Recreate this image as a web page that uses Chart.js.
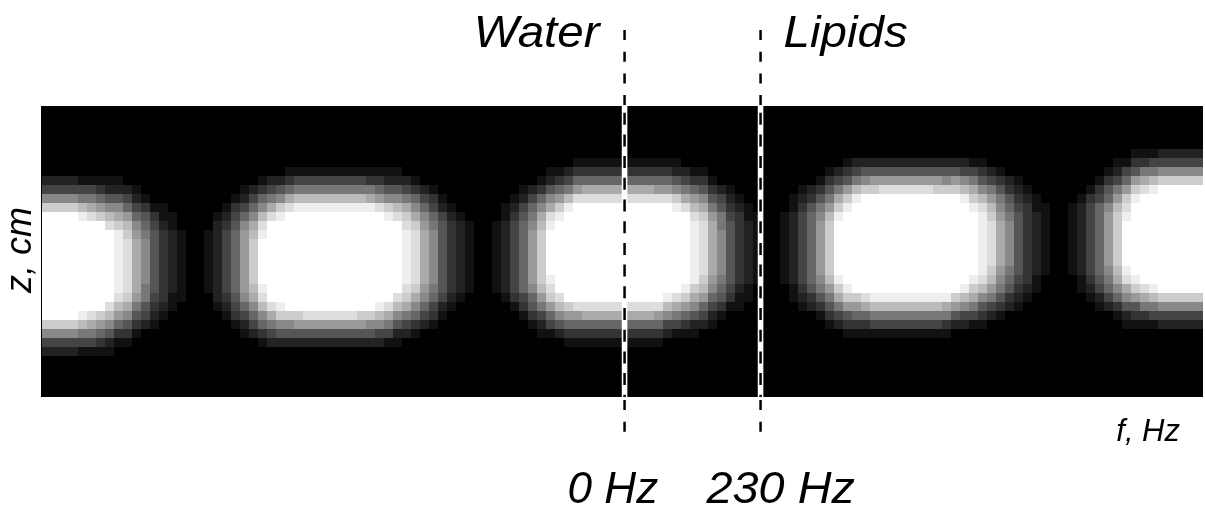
<!DOCTYPE html>
<html>
<head>
<meta charset="utf-8">
<script src="https://cdn.jsdelivr.net/npm/chart.js@4.4.1/dist/chart.umd.min.js"></script>
<style>
  html, body { margin: 0; padding: 0; background: #fff; }
  #wrap { width: 1205px; height: 509px; }
</style>
</head>
<body>
<div id="wrap"><canvas id="map" width="1205" height="509"></canvas></div>
<script>
// one string per f bin (left to right), one hex digit per z row (top first): 0 = black, f = white
const fBins = [
  '00000000 248c ffffffffffff c842 00000',
  '00000000 248c ffffffffffff c842 00000',
  '00000000 248c ffffffffffff c842 00000',
  '00000000 248c ffffffffffff c842 00000',
  '00000000 147be ffffffffff eb741 00000',
  '00000000 147ad ffffffffff da741 00000',
  '00000000 1369c ffffffffff c9631 00000',
  '00000000 1258bd ffffffff db8521 00000',
  '00000000 1258ac eeeeeee db9631 000000',
  '000000000 2469bc dddddd ca8531 000000',
  '000000000 124689 aaaaaa 97531 0000000',
  '0000000000 13567 88888 77542 00000000',
  '00000000000 134 5555555 4321 00000000',
  '00000000000 112 33333333 21 000000000',
  '000000000000 11 2222222 11 0000000000',
  '00000000000000 11111111 00000000000',
  '00000000000 00000000000 00000000000',
  '00000000000 00000000000 00000000000',
  '00000000000000 1111111 000000000000',
  '000000000000 1 222222222 1 0000000000',
  '00000000000 123 4444444 321 000000000',
  '0000000000 1345 6666666 5431 00000000',
  '000000000 12468 9999999 86421 0000000',
  '000000000 2468ab ccccc ba8642 0000000',
  '00000000 1368bde fffff edb8631 000000',
  '00000000 247ad fffffffff da742 000000',
  '00000000 258ce fffffffff ec852 000000',
  '0000000 136ad fffffffffff c852 000000',
  '0000000 147be fffffffffff c952 000000',
  '0000000 147be fffffffffff d952 000000',
  '0000000 147be fffffffffff d952 000000',
  '0000000 147be fffffffffff d952 000000',
  '0000000 147be fffffffffff d952 000000',
  '0000000 147be fffffffffff d952 000000',
  '0000000 147be fffffffffff d952 000000',
  '0000000 147be fffffffffff c952 000000',
  '0000000 137ae fffffffffff c852 000000',
  '0000000 1369d ffffffffff eb842 000000',
  '0000000 1258ce fffffffff da741 000000',
  '0000000 1258bd ffffffff db8521 000000',
  '00000000 247acd eeeeee dca742 0000000',
  '00000000 1368ac dddddd ca8631 0000000',
  '000000000 24689 aaaaaa 98642 00000000',
  '000000000 13467 888888 76431 00000000',
  '0000000000 124 55555555 421 000000000',
  '00000000000 12 33333333 21 0000000000',
  '000000000000 1 22222222 1 00000000000',
  '0000000000000 11111111 000000000000',
  '00000000000 00000000000 00000000000',
  '00000000000 00000000000 00000000000',
  '0000000000000 11111111 000000000000',
  '00000000000 11 22222222 1 00000000000',
  '0000000000 123 44444444 31 0000000000',
  '000000000 1245 66666666 431 000000000',
  '000000000 24678 999999 86531 00000000',
  '00000000 1368ab cccccc b97421 0000000',
  '0000000 1258ade fffff edc9641 0000000',
  '0000000 1369ce ffffffff db852 0000000',
  '0000000 247be ffffffffff c9631 000000',
  '000000 1369d fffffffffff d9631 000000',
  '000000 136ad fffffffffff da631 000000',
  '000000 136ad fffffffffff da631 000000',
  '000000 136ad fffffffffff da631 000000',
  '000000 136ad fffffffffff da631 000000',
  '000000 136ad fffffffffff da631 000000',
  '000000 136ad fffffffffff da631 000000',
  '000000 136ad fffffffffff da631 000000',
  '000000 136ad fffffffffff da631 000000',
  '000000 1369d fffffffffff d9631 000000',
  '000000 1369d ffffffffff eb842 0000000',
  '000000 1258ce fffffffff da741 0000000',
  '0000000 247ad ffffffff ec9631 0000000',
  '0000000 1369bd eeeeeee ca8521 0000000',
  '0000000 1358ac dddddd cb9642 00000000',
  '00000000 13579 aaaaaa 986421 00000000',
  '000000000 24577 88888 76531 000000000',
  '000000000 1234 5555555 431 0000000000',
  '0000000000 12 33333333 211 0000000000',
  '00000000000 11 2222222 11 00000000000',
  '000000000000 11111111 0000000000000',
  '00000000000 00000000000 00000000000',
  '00000000000 00000000000 00000000000',
  '000000000000 11111111 0000000000000',
  '0000000000 11 22222222 11 00000000000',
  '000000000 123 44444444 321 0000000000',
  '000000000 235 66666666 532 0000000000',
  '00000000 13578 999999 87531 000000000',
  '0000000 13579b cccccc b97531 00000000',
  '0000000 247ace ffffff eca742 00000000',
  '000000 1359ce ffffffff ec9531 0000000',
  '000000 247be ffffffffff c9631 0000000',
  '000000 258c fffffffffff da631 0000000',
  '000000 259c fffffffffff eb741 0000000',
  '000000 259d fffffffffff eb741 0000000',
  '000000 259d fffffffffff eb741 0000000',
  '000000 259d fffffffffff eb741 0000000',
  '000000 259d fffffffffff eb741 0000000',
  '000000 259d fffffffffff eb741 0000000',
  '000000 259d fffffffffff eb741 0000000',
  '000000 259c fffffffffff eb741 0000000',
  '000000 258c fffffffffff ea731 0000000',
  '000000 259c fffffffffff c952 00000000',
  '000000 248be fffffffff eb842 00000000',
  '000000 147ace fffffff eca741 00000000',
  '000000 1358bd eeeeeee db8531 00000000',
  '0000000 2479bc ddddd cb9742 000000000',
  '0000000 135789 aaaaa 987531 000000000',
  '00000000 23567 88888 76532 0000000000',
  '00000000 1234 5555555 4321 0000000000',
  '000000000 12 333333333 21 00000000000',
  '0000000000 11 2222222 11 000000000000',
  '00000000000 11111111 00000000000000',
  '00000000000 00000000000 00000000000',
  '00000000000 00000000000 00000000000',
  '00000000000 11111111 00000000000000',
  '0000000000 1 22222222 11 000000000000',
  '000000000 13 44444444 321 00000000000',
  '00000000 134 66666666 5421 0000000000',
  '0000000 13568 999999 87642 0000000000',
  '000000 12479b cccccc ba8631 000000000',
  '000000 1469cde fffff eda8521 00000000',
  '00000 1359ce ffffffff ec9531 00000000',
  '00000 137ad ffffffffff da731 00000000',
  '00000 147be ffffffffff eb741 00000000',
  '00000 248c ffffffffffff c842 00000000',
  '00000 248c ffffffffffff c842 00000000',
  '00000 248c ffffffffffff c842 00000000',
  '00000 248c ffffffffffff c842 00000000',
  '00000 248c ffffffffffff c842 00000000'
];

const markerLabels = ['0 Hz', '230 Hz'];
const markerBins = [64.76, 79.87];
const regionLabels = ['Water', 'Lipids'];
const xTitle = 'f, Hz';
const yTitle = 'z, cm';

const cells = fBins.map(s => s.replace(/ /g, ''));
const FONT = '"Liberation Sans", Arial, Helvetica, sans-serif';

// paints the grey cells through the chart's own x / y scales
const heatmap = {
  id: 'heatmap',
  beforeDatasetsDraw(chart) {
    const { ctx, chartArea: a, scales: { x, y } } = chart;
    ctx.save();
    ctx.beginPath();
    ctx.rect(a.left, a.top, a.right - a.left, a.bottom - a.top);
    ctx.clip();
    ctx.fillStyle = '#000';
    ctx.fillRect(a.left, a.top, a.right - a.left, a.bottom - a.top);
    cells.forEach((col, c) => {
      const x0 = Math.round(x.getPixelForValue(c));
      const x1 = Math.round(x.getPixelForValue(c + 1));
      for (let r = 0; r < col.length; r++) {
        const v = parseInt(col[r], 16) * 17;
        if (!v) continue;
        const y0 = Math.round(y.getPixelForValue(r));
        const y1 = Math.round(y.getPixelForValue(r + 1));
        ctx.fillStyle = `rgb(${v},${v},${v})`;
        ctx.fillRect(x0, y0, x1 - x0, y1 - y0);
      }
    });
    ctx.restore();
  }
};

function dashed(ctx, px, y0, y1, pattern) {
  ctx.setLineDash(pattern);
  ctx.beginPath();
  ctx.moveTo(px, y0);
  ctx.lineTo(px, y1);
  ctx.stroke();
}

// italic label, stretched a little sideways like the original lettering
function label(ctx, text, x, y, size, align, sx) {
  ctx.save();
  ctx.translate(x, y);
  ctx.scale(sx, 1);
  ctx.font = `italic ${size}px ${FONT}`;
  ctx.textAlign = align;
  ctx.textBaseline = 'alphabetic';
  ctx.fillStyle = '#000';
  ctx.fillText(text, 0, 0);
  ctx.restore();
}

const overlay = {
  id: 'overlay',
  afterDraw(chart) {
    const { ctx, chartArea: a, scales: { x } } = chart;
    ctx.save();
    ctx.strokeStyle = '#000';
    ctx.lineWidth = 2.5;
    const labelShift = [-57, -54];
    markerBins.forEach((b, i) => {
      const px = x.getPixelForValue(b);
      ctx.fillStyle = '#fff';
      ctx.fillRect(px - 2.8, a.top, 5.6, a.bottom - a.top);
      dashed(ctx, px, 30, a.top, [10, 11.7]);
      ctx.save();
      ctx.beginPath();
      ctx.rect(0, a.top, chart.width, a.bottom - a.top);
      ctx.clip();
      dashed(ctx, px, a.top - 15, a.bottom, [12, 9.7]);
      ctx.restore();
      dashed(ctx, px, a.bottom + 3, 441, [10, 11.7]);
      ctx.setLineDash([]);
      label(ctx, markerLabels[i], px + labelShift[i], 503, 45, 'left', i ? 1.04 : 0.98);
    });

    const p0 = x.getPixelForValue(markerBins[0]);
    const p1 = x.getPixelForValue(markerBins[1]);
    label(ctx, regionLabels[0], p0 - 25, 47, 44, 'right', 1.08);
    label(ctx, regionLabels[1], p1 + 23, 47, 44, 'left', 1.08);
    label(ctx, xTitle, 1180, 441, 31, 'right', 1);

    ctx.save();
    ctx.translate(31, 250);
    ctx.rotate(-Math.PI / 2);
    ctx.font = `italic 36px ${FONT}`;
    ctx.textAlign = 'center';
    ctx.fillStyle = '#000';
    ctx.fillText(yTitle, 0, 0);
    ctx.restore();
    ctx.restore();
  }
};

new Chart(document.getElementById('map'), {
  type: 'scatter',
  data: { datasets: [{ data: [] }] },
  options: {
    responsive: false,
    animation: false,
    devicePixelRatio: 1,
    layout: { padding: { left: 41, right: 2, top: 106, bottom: 112 } },
    scales: {
      x: { type: 'linear', min: -0.08, max: 129.03, display: false },
      y: { type: 'linear', min: 0.22, max: 32.56, reverse: true, display: false }
    },
    plugins: { legend: { display: false }, tooltip: { enabled: false } }
  },
  plugins: [heatmap, overlay]
});
</script>
</body>
</html>
